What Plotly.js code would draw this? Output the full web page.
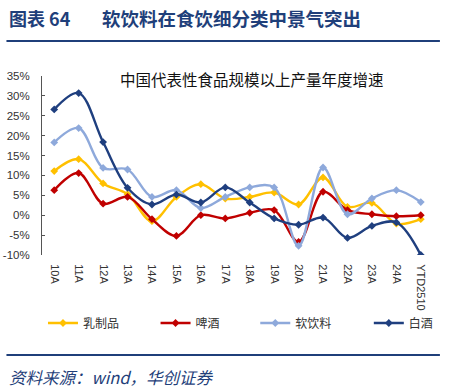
<!DOCTYPE html>
<html>
<head>
<meta charset="utf-8">
<script src="https://cdn.plot.ly/plotly-3.0.1.min.js"></script>
<style>html,body{margin:0;padding:0;background:#fff;}#chart{width:451px;height:390px;}</style>
</head>
<body>
<div id="chart"></div>
<script>
var categories = ['10A','11A','12A','13A','14A','15A','16A','17A','18A','19A','20A','21A','22A','23A','24A','YTD2510'];
var dairy  = [11.1, 14.1, 8.0, 5.3, -1.5, 4.6, 7.8, 4.2, 4.6, 5.7, 2.7, 9.5, 2.1, 3.1, -2.1, -1.0];
var beer   = [6.3, 10.6, 2.9, 4.6, -1.0, -5.2, 0.0, -0.8, 0.6, 1.3, -6.7, 5.9, 1.3, 0.25, -0.25, 0.0];
var soft   = [18.3, 21.9, 11.9, 11.5, 4.6, 6.3, 1.8, 4.6, 7.0, 7.0, -7.7, 12.0, 0.25, 4.2, 6.3, 3.3];
var baijiu = [26.6, 30.7, 18.4, 6.9, 2.7, 5.2, 3.2, 7.0, 3.2, -0.8, -2.4, -0.6, -5.7, -2.7, -1.8, -10.0];
var seriesNames = ['乳制品','啤酒','软饮料','白酒'];
var yTickVals = [-10, -5, 0, 5, 10, 15, 20, 25, 30, 35];
var yTickText = ['-10%','-5%','0%','5%','10%','15%','20%','25%','30%','35%'];

var colors = ['#FFC000', '#C00000', '#8EA9DB', '#1F3F7F'];
var seriesData = [dairy, beer, soft, baijiu];
var legendIds = ['legend', 'legend2', 'legend3', 'legend4'];

var traces = seriesData.map(function(d, i) {
  return {
    type: 'scatter', mode: 'lines+markers',
    x: categories, y: d, name: seriesNames[i],
    xaxis: 'x', yaxis: 'y', legend: legendIds[i],
    line: {color: colors[i], width: 2.4, shape: 'spline', smoothing: 1},
    marker: {symbol: 'diamond', size: 6, color: colors[i]},
    hoverinfo: 'skip'
  };
});

var W = 451, H = 390, L = 42, R = 438, T = 76, B = 255;
function px(x) { return (x - L) / (R - L); }
function py(y) { return (B - y) / (B - T); }

var headColor = '#1F3F7A';
var cjk = '"Noto Sans CJK SC", "Noto Sans", sans-serif';

var layout = {
  width: W, height: H,
  margin: {l: L, r: W - R, t: T, b: H - B, pad: 0},
  paper_bgcolor: '#fff', plot_bgcolor: '#fff',
  showlegend: true,
  font: {family: 'Arial, "Liberation Sans", sans-serif', size: 11, color: '#333'},
  xaxis: {
    type: 'category', range: [-0.5, 15.5], domain: [0, 1],
    showline: false, showgrid: false, zeroline: false,
    ticks: 'outside', ticklen: 6, tickcolor: 'rgba(0,0,0,0)',
    tickangle: 90, tickfont: {size: 11, color: '#333'},
    fixedrange: true
  },
  xaxis2: {
    overlaying: 'x', anchor: 'free', position: 10 / 45,
    type: 'linear', range: [-0.5, 15.5], tick0: -0.5, dtick: 1,
    showline: true, linecolor: '#555', linewidth: 1,
    ticks: 'inside', ticklen: 4, tickcolor: '#555', tickwidth: 1,
    showticklabels: false, showgrid: false, zeroline: false
  },
  yaxis: {
    range: [-10, 35], tickvals: yTickVals, ticktext: yTickText,
    showline: true, linecolor: '#555', linewidth: 1,
    ticks: 'inside', ticklen: 3, tickcolor: '#555',
    showgrid: false, zeroline: false,
    ticklabelstandoff: 9,
    tickfont: {size: 11.5, color: '#333'}
  },
  shapes: [
    {type: 'line', xref: 'paper', yref: 'paper', x0: px(6), x1: px(445), y0: py(41), y1: py(41),
     line: {color: headColor, width: 2.2}},
    {type: 'line', xref: 'paper', yref: 'paper', x0: px(6), x1: px(445), y0: py(355), y1: py(355),
     line: {color: headColor, width: 2.2}}
  ],
  annotations: [
    {xref: 'paper', yref: 'paper', x: px(7), y: py(18), xanchor: 'left', yanchor: 'middle',
     text: '<b>图表 64</b>', showarrow: false,
     font: {family: cjk, size: 18, color: headColor}},
    {xref: 'paper', yref: 'paper', x: px(101), y: py(18), xanchor: 'left', yanchor: 'middle',
     text: '<b>软饮料在食饮细分类中景气突出</b>', showarrow: false,
     font: {family: cjk, size: 18.5, color: headColor}},
    {xref: 'paper', yref: 'paper', x: px(255), y: py(79), xanchor: 'center', yanchor: 'middle',
     text: '中国代表性食品规模以上产量年度增速', showarrow: false,
     font: {family: cjk, size: 15.5, color: '#111'}},
    {xref: 'paper', yref: 'paper', x: px(7), y: py(377), xanchor: 'left', yanchor: 'middle',
     text: '<i>资料来源：wind，华创证券</i>', showarrow: false,
     font: {family: cjk, size: 16.5, color: headColor}}
  ]
};

var legendX = [43, 157, 258, 373];
legendIds.forEach(function(id, i) {
  layout[id] = {
    orientation: 'h', x: px(legendX[i]), xanchor: 'left', y: py(323), yanchor: 'middle',
    font: {family: cjk, size: 12, color: '#333'},
    itemwidth: 30, bgcolor: 'rgba(0,0,0,0)', borderwidth: 0
  };
});

Plotly.newPlot('chart', traces, layout, {displayModeBar: false, staticPlot: true});
</script>
</body>
</html>
